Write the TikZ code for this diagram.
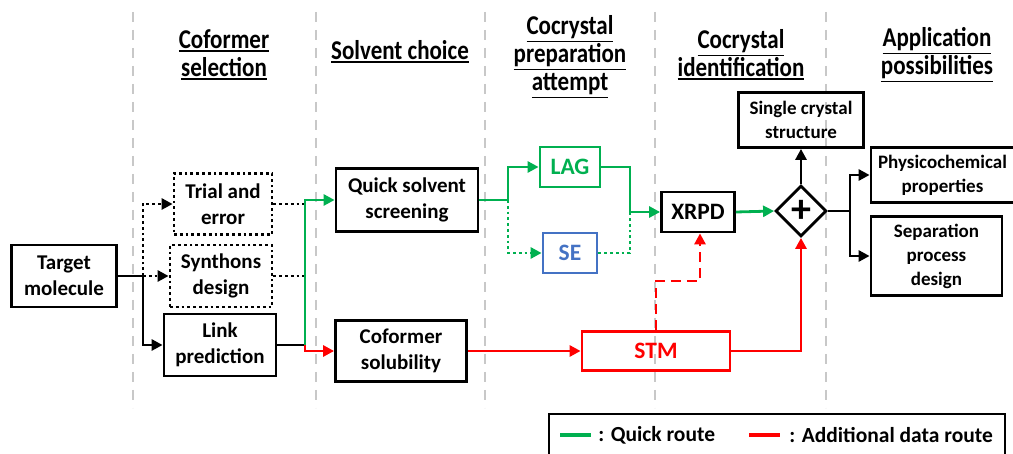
\documentclass[tikz,border=0pt]{standalone}
\usepackage{fontspec}
\setmainfont{Carlito}
\usetikzlibrary{arrows.meta,shapes.geometric}
\definecolor{quickgreen}{RGB}{0,176,80}
\definecolor{datared}{RGB}{255,0,0}
\definecolor{seblue}{RGB}{68,114,196}
\definecolor{sepgray}{RGB}{200,200,200}
% underlined header line
\newcommand{\hdline}[1]{\vtop{\hbox{\scalebox{1}[1.18]{#1}}\kern1.5pt\hrule height 1.8pt}}

\begin{document}
\begin{tikzpicture}[x=1pt,y=-1pt,line width=2.8pt,
  >={Triangle[length=11pt,width=11pt]},
  box/.style={draw,rectangle,align=center,inner sep=0pt,
    font=\bfseries\fontsize{21}{26}\selectfont},
  bigbox/.style={box,font=\bfseries\fontsize{23.5}{27}\selectfont},
  smallbox/.style={box,font=\bfseries\fontsize{19}{24}\selectfont},
  dotbox/.style={box,dash pattern=on 2.8pt off 3pt},
  dots/.style={dash pattern=on 2.8pt off 3pt},
  header/.style={align=center,inner sep=0pt,
    font=\bfseries\fontsize{23}{28}\selectfont},
  legendtext/.style={anchor=west,inner sep=0pt,font=\bfseries\fontsize{21.5}{25}\selectfont},
  sepline/.style={sepgray,line width=2pt,dash pattern=on 10pt off 8pt}]
\useasboundingbox (0,0) rectangle (1013,454);

% column separators
\foreach \x in {133,316,485,655,826}
  \draw [sepline] (\x,12) -- (\x,408);

% headers
\node [header] (hcof) at (224,55) {\hdline{Coformer}\\\hdline{selection}};
\node [header] (hsol) at (400,52) {\hdline{Solvent choice}};
\node [header] (hprep) at (570,57) {\hdline{Cocrystal}\\\hdline{preparation}\\\hdline{attempt}};
\node [header] (hid) at (741,55) {\hdline{Cocrystal}\\\hdline{identification}};
\node [header] (happ) at (937,55) {\hdline{Application}\\\hdline{possibilities}};

% boxes
\node [box,minimum width=105,minimum height=62] (tgt) at (64,276) {Target\\molecule};
\node [dotbox,minimum width=98,minimum height=61] (trial) at (223,204) {Trial and\\error};
\node [dotbox,minimum width=102,minimum height=62] (syn) at (221,276) {Synthons\\design};
\node [box,minimum width=112,minimum height=62] (link) at (220,345) {Link\\prediction};
\node [box,minimum width=142,minimum height=63] (quick) at (407,200) {Quick solvent\\screening};
\node [box,minimum width=131,minimum height=61] (cof) at (401,351) {Coformer\\solubility};
\node [bigbox,quickgreen,minimum width=60,minimum height=40] (lag) at (570,167) {LAG};
\node [bigbox,seblue,minimum width=54,minimum height=40] (se) at (570,253) {SE};
\node [bigbox,minimum width=73,minimum height=40] (xrpd) at (698,212) {XRPD};
\node [bigbox,datared,minimum width=148,minimum height=39] (stm) at (656,351) {STM};
\node [draw,diamond,minimum width=51,minimum height=51,inner sep=0pt,
  font=\bfseries\fontsize{40}{40}\selectfont] (plus) at (801,211) {+};
\node [smallbox,minimum width=125,minimum height=55] (sgl) at (801,120) {Single crystal\\structure};
\node [smallbox,minimum width=143,minimum height=55] (phys) at (942.5,175) {Physicochemical\\properties};
\node [smallbox,minimum width=131,minimum height=79] (sepd) at (936.5,256) {Separation\\process\\design};

% junctions
\coordinate (j1) at (143,276);
\coordinate (j2) at (305,345);
\coordinate (j3) at (508,200);
\coordinate (j4) at (630,212);
\coordinate (d1) at (700,281);
\coordinate (j6) at (850,211);

% coformer selection
\draw (tgt.east) -- (j1);
\draw [->] (j1) |- (link.west);
\draw [dots,->] (j1) |- (trial.west);
\draw [dots,->] (j1) -- (syn.west);
\draw [dots] (trial.east) -- (trial.east -| j2);
\draw [dots] (syn.east) -- (syn.east -| j2);
\draw (link.east) -- (j2);

% solvent choice
\draw [quickgreen,->] (j2) |- (quick.west);
\draw [datared,->] (j2) |- (cof.west);

% preparation
\draw [quickgreen] (quick.east) -- (j3);
\draw [quickgreen,->] (j3) |- (lag.west);
\draw [quickgreen,dots,->] (j3) |- (se.west);
\draw [quickgreen] (lag.east) -| (j4);
\draw [quickgreen,dots] (se.east) -| (j4);
\draw [quickgreen,->] (j4) -- (xrpd.west);
\draw [datared,->] (cof.east) -- (stm.west);

% identification
\draw [quickgreen,->] (xrpd.east) -- (plus.west);
\draw [datared,dash pattern=on 10pt off 6pt,->] (stm.north) |- (d1) -- (xrpd.south -| d1);
\draw [datared,->] (stm.east) -| (plus.south);
\draw [->] (plus.north) -- (sgl.south);

% applications
\draw (plus.east) -- (j6);
\draw [->] (j6) |- (phys.west);
\draw [->] (j6) |- (sepd.west);

% legend
\draw (549,414) rectangle (1005,458);
\coordinate (g1) at (560,435);
\coordinate (g2) at (591,435);
\coordinate (r1) at (749,435);
\coordinate (r2) at (780,435);
\draw [quickgreen,line width=3.5pt] (g1) -- (g2);
\draw [datared,line width=3.5pt] (r1) -- (r2);
\node [legendtext] (lgq) at (597,435) {: Quick route};
\node [legendtext] (lgr) at (788,435) {: Additional data route};
\end{tikzpicture}
\end{document}
